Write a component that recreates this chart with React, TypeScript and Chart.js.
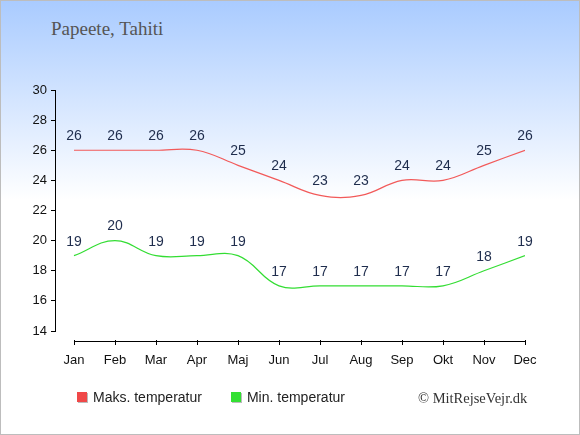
import { useEffect, useRef } from "react";
import { Chart, registerables } from "chart.js";

Chart.register(...registerables);

const months = ["Jan", "Feb", "Mar", "Apr", "Maj", "Jun", "Jul", "Aug", "Sep", "Okt", "Nov", "Dec"];
const maxTemp = [26, 26, 26, 26, 25, 24, 23, 23, 24, 24, 25, 26];
const minTemp = [19, 20, 19, 19, 19, 17, 17, 17, 17, 17, 18, 19];
const yTicks = [14, 16, 18, 20, 22, 24, 26, 28, 30];

const sans = "'Liberation Sans', Arial, sans-serif";
const serif = "'Liberation Serif', 'Times New Roman', serif";

const seriesValues = [maxTemp, minTemp];

// x axis sits a little below the plot, and data labels above each point
const extras = {
  id: "extras",
  afterDatasetsDraw(chart: Chart) {
    const { ctx, chartArea } = chart;
    const x = chart.scales.x;
    const y0 = chartArea.bottom + 10;
    ctx.save();
    ctx.strokeStyle = "#000";
    ctx.lineWidth = 1;
    ctx.beginPath();
    ctx.moveTo(x.getPixelForValue(0), y0 + 0.5);
    ctx.lineTo(x.getPixelForValue(months.length - 1), y0 + 0.5);
    months.forEach((_, i) => {
      const px = Math.round(x.getPixelForValue(i)) + 0.5;
      ctx.moveTo(px, y0 - 1);
      ctx.lineTo(px, y0 + 4);
    });
    ctx.stroke();

    ctx.font = `14px ${sans}`;
    ctx.fillStyle = "#1f2d4d";
    ctx.textAlign = "center";
    ctx.textBaseline = "middle";
    seriesValues.forEach((vals, di) => {
      const meta = chart.getDatasetMeta(di);
      meta.data.forEach((pt, i) => {
        ctx.fillText(String(vals[i]), pt.x, pt.y - 14);
      });
    });
    ctx.restore();
  },
};

export default function App() {
  const canvasRef = useRef<HTMLCanvasElement>(null);

  useEffect(() => {
    document.body.style.margin = "0";
    if (!canvasRef.current) return;
    const chart = new Chart(canvasRef.current, {
      type: "line",
      data: {
        datasets: [
          {
            label: "Maks. temperatur",
            data: maxTemp.map((v, i) => ({ x: i, y: v })),
            borderColor: "#f25a5a",
            borderWidth: 1.2,
            tension: 0.4,
            pointRadius: 0,
          },
          {
            label: "Min. temperatur",
            data: minTemp.map((v, i) => ({ x: i, y: v })),
            borderColor: "#33dd33",
            borderWidth: 1.2,
            tension: 0.4,
            pointRadius: 0,
          },
        ],
      },
      options: {
        animation: false,
        responsive: false,
        layout: { padding: { top: 90, right: 55, left: 0, bottom: 0 } },
        plugins: { legend: { display: false }, tooltip: { enabled: false } },
        scales: {
          x: {
            type: "linear",
            min: -0.463,
            max: 11,
            afterBuildTicks: (s: any) => {
              s.ticks = months.map((_, i) => ({ value: i }));
            },
            afterFit: (s: any) => {
              s.height = 104;
            },
            grid: { display: false },
            border: { display: false },
            ticks: {
              padding: 14,
              autoSkip: false,
              maxRotation: 0,
              color: "#111",
              font: { family: sans, size: 13 },
              callback: (v: any) => months[v] ?? "",
            },
          },
          y: {
            min: 14,
            max: 30,
            afterBuildTicks: (s: any) => {
              s.ticks = yTicks.map((v) => ({ value: v }));
            },
            afterFit: (s: any) => {
              s.width = 55;
            },
            grid: { drawOnChartArea: false, drawTicks: true, tickLength: 4, color: "#000" },
            border: { display: true, color: "#000", width: 1 },
            ticks: {
              padding: 4,
              color: "#111",
              font: { family: sans, size: 13 },
            },
          },
        },
      },
      plugins: [extras],
    });
    return () => chart.destroy();
  }, []);

  return (
    <div
      style={{
        position: "relative",
        width: 580,
        height: 435,
        boxSizing: "border-box",
        background: "linear-gradient(to bottom, #a9cbff 0%, #ffffff 46%, #ffffff 100%)",
        boxShadow: "inset 0 0 0 1px #bdbdbd",
        overflow: "hidden",
      }}
    >
      <div
        style={{
          position: "absolute",
          left: 51,
          top: 18,
          fontFamily: serif,
          fontSize: 19,
          color: "#555",
        }}
      >
        Papeete, Tahiti
      </div>
      <canvas
        ref={canvasRef}
        width={580}
        height={435}
        style={{ position: "absolute", left: 0, top: 0 }}
      />
      <div style={{ position: "absolute", left: 77, top: 389, fontFamily: sans, fontSize: 14, color: "#222", display: "flex", alignItems: "center" }}>
        <span style={{ width: 10, height: 10, background: "#f04848", boxShadow: "1px 1px 0 #bbb", marginRight: 6 }} />
        Maks. temperatur
        <span style={{ width: 10, height: 10, background: "#33e033", boxShadow: "1px 1px 0 #bbb", marginLeft: 29, marginRight: 6 }} />
        Min. temperatur
      </div>
      <div style={{ position: "absolute", left: 418, top: 390, fontFamily: serif, fontSize: 14.5, color: "#333" }}>
        © MitRejseVejr.dk
      </div>
    </div>
  );
}
